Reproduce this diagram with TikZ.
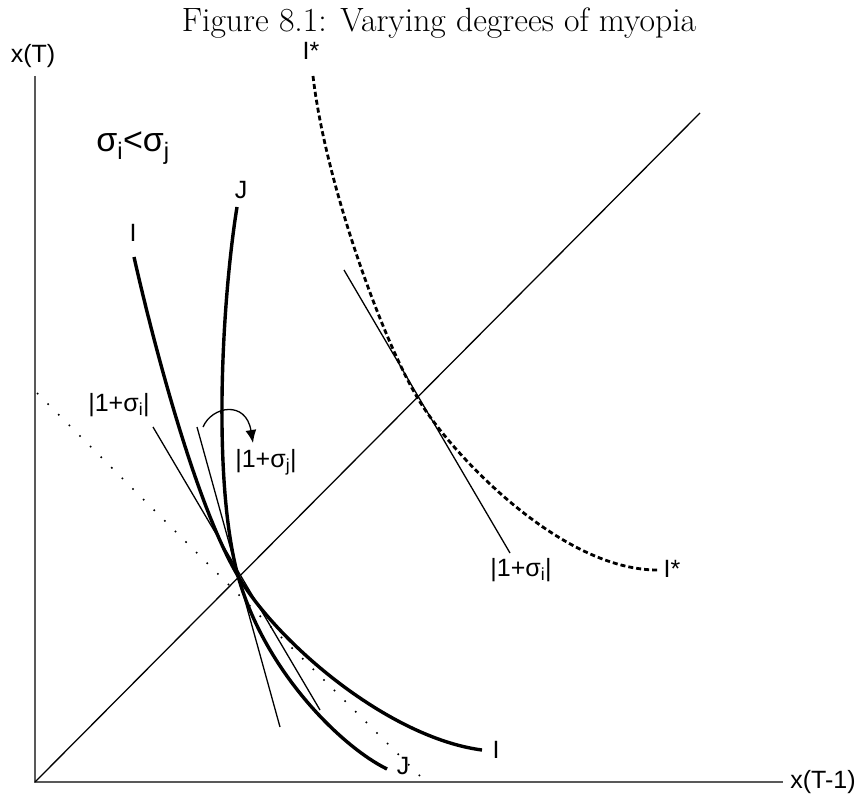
\documentclass[tikz,border=0pt]{standalone}
\usepackage{fontspec}
\newfontfamily\labelfont{Liberation Sans}
\usetikzlibrary{arrows.meta}

\begin{document}
\begin{tikzpicture}[
		x=1pt, y=-1pt,
		axis/.style={draw=black!65, line width=1.6pt},
		curve/.style={line width=3.4pt},
		tangent/.style={line width=1.3pt},
		budget/.style={line width=1.6pt, dash pattern=on 1.6pt off 13.4pt},
		lbl/.style={font=\fontsize{25}{30}\selectfont\labelfont, inner sep=0pt},
		]
		\useasboundingbox (0,0) rectangle (861,794);
		
		% Title
		\node[anchor=base, inner sep=0pt, font=\fontsize{33.7}{40}\selectfont] (title) at (439,32) {Figure 8.1: Varying degrees of myopia};
		
		% Axes
		\coordinate (O) at (35,782);
		\coordinate (ytop) at (35,76);
		\coordinate (xend) at (783,782);
		\draw[axis] (ytop) -- (O) -- (xend);
		\node[lbl] (xT) at (33,56) {x(T)};
		\node[lbl] (xT1) at (823,782) {x(T-1)};
		
		% 45 degree line
		\coordinate (diag) at (700,113);
		\draw[tangent] (O) -- (diag);
		
		% Points of tangency
		\coordinate (P) at (238,576);
		\coordinate (Q) at (417,397);
		
		% Dotted line
		\coordinate (dotA) at (37,393);
		\coordinate (dotB) at (422,778);
		\draw[budget] (dotA) -- (dotB);
		
		% Curve I
		\coordinate (Itop) at (134,257);
		\coordinate (Iend) at (482,750);
		\draw[curve] (Itop) .. controls (155,350) and (197,507) .. (P)
			.. controls (279,645) and (390,738) .. (Iend);
		\node[lbl] (Ilbl) at (133,233) {I};
		\node[lbl] (Ilbl2) at (496,750) {I};
		
		% Curve J
		\coordinate (Jtop) at (237,207);
		\coordinate (Jend) at (387,769);
		\draw[curve] (Jtop) .. controls (222,300) and (212,480) .. (P)
			.. controls (265,672) and (342,747) .. (Jend);
		\node[lbl] (Jlbl) at (241,190) {J};
		\node[lbl] (Jlbl2) at (403,766) {J};
		
		% Curve I*
		\coordinate (Istop) at (313,76);
		\coordinate (Isend) at (660,570);
		\draw[curve, line width=2.8pt, dash pattern=on 5pt off 3pt] (Istop) .. controls (325,180) and (380,334) .. (Q)
			.. controls (447,449) and (560,572) .. (Isend);
		\node[lbl] (Islbl) at (311,51) {I*};
		\node[lbl] (Islbl2) at (672,569) {I*};
		
		% Tangent lines
		\coordinate (tIa) at (153,427);
		\coordinate (tIb) at (320,710);
		\coordinate (tJa) at (197,427);
		\coordinate (tJb) at (280,727);
		\coordinate (tSa) at (344,270);
		\coordinate (tSb) at (510,553);
		\draw[tangent] (tIa) -- (tIb);
		\draw[tangent] (tJa) -- (tJb);
		\draw[tangent] (tSa) -- (tSb);
		
		% Slope labels
		\node[lbl] (si) at (119,405) {|1+σ\textsubscript{i}|};
		\node[lbl] (sj) at (266,462) {|1+σ\textsubscript{j}|};
		\node[lbl] (si2) at (521,570) {|1+σ\textsubscript{i}|};
		\node[lbl, font=\fontsize{34}{40}\selectfont\labelfont] (cmp) at (133,148) {σ\textsubscript{i}<σ\textsubscript{j}};
		
		% Rotation arrow
		\coordinate (arrA) at (203,427);
		\coordinate (arrB) at (253,443);
		\draw[tangent, -{Latex[length=13pt, width=11pt]}] (arrA) .. controls (212,406) and (246,400) .. (arrB);
		
	\end{tikzpicture}
\end{document}
